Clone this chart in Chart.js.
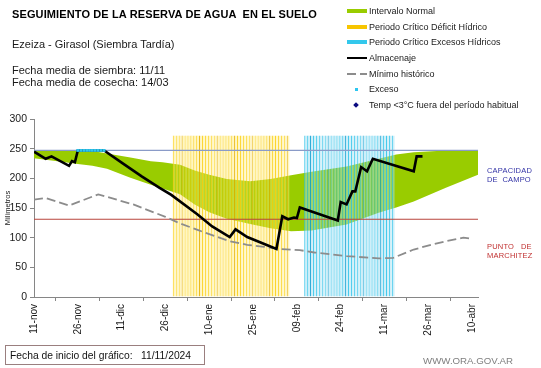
<!DOCTYPE html>
<html lang="es">
<head>
<meta charset="utf-8">
<title>Seguimiento de la reserva de agua en el suelo</title>
<script src="https://cdn.jsdelivr.net/npm/chart.js@4.4.1/dist/chart.umd.min.js"></script>
<style>
  html, body { margin:0; padding:0; background:#fff; }
  #wrap { position:relative; width:541px; height:368px; overflow:hidden; font-family:"Liberation Sans", Arial, sans-serif; color:#111; }
  #chart { position:absolute; left:0; top:0; }
  .txt { position:absolute; white-space:pre; line-height:1; }
  .title { left:12px; top:9px; font-size:11px; font-weight:bold; letter-spacing:0.12px; color:#000; }
  .sub { left:12px; font-size:11px; color:#1a1a1a; }
  .leg { position:absolute; left:347px; width:190px; height:12px; }
  .leg .sym { position:absolute; }
  .leg .lab { position:absolute; left:22px; top:0; font-size:9px; line-height:12px; white-space:pre; color:#1a1a1a; }
  .side { font-size:7.5px; letter-spacing:0.2px; }
  #startbox { position:absolute; left:5px; top:345px; width:200px; height:20px; border:1px solid #9a7f7f; box-sizing:border-box; }
</style>
</head>
<body>
<div id="wrap">
  <canvas id="chart" width="541" height="368"></canvas>

  <div class="txt title">SEGUIMIENTO DE LA RESERVA DE AGUA  EN EL SUELO</div>
  <div class="txt sub" style="top:38.6px">Ezeiza - Girasol (Siembra Tardía)</div>
  <div class="txt sub" style="top:64.6px">Fecha media de siembra: 11/11</div>
  <div class="txt sub" style="top:77px">Fecha media de cosecha: 14/03</div>

  <div class="leg" style="top:5px"><span class="sym" style="left:0;top:4px;width:20px;height:4px;background:#99CC00"></span><span class="lab">Intervalo Normal</span></div>
  <div class="leg" style="top:20.7px"><span class="sym" style="left:0;top:4px;width:20px;height:4px;background:#F7C500"></span><span class="lab">Periodo Crítico Déficit Hídrico</span></div>
  <div class="leg" style="top:36.3px"><span class="sym" style="left:0;top:4px;width:20px;height:4px;background:#33C8EC"></span><span class="lab">Periodo Crítico Excesos Hídricos</span></div>
  <div class="leg" style="top:52px"><span class="sym" style="left:0;top:5px;width:20px;height:2px;background:#000"></span><span class="lab">Almacenaje</span></div>
  <div class="leg" style="top:67.7px"><span class="sym" style="left:0;top:5px;width:9px;height:2px;background:#8c8c8c"></span><span class="sym" style="left:13px;top:5px;width:7px;height:2px;background:#8c8c8c"></span><span class="lab">Mínimo histórico</span></div>
  <div class="leg" style="top:83.3px"><span class="sym" style="left:8px;top:5px;width:3px;height:3px;background:#2CC6F0"></span><span class="lab">Exceso</span></div>
  <div class="leg" style="top:99px"><span class="sym" style="left:7px;top:4px;width:4px;height:4px;background:#0A0A80;transform:rotate(45deg)"></span><span class="lab">Temp &lt;3°C fuera del período habitual</span></div>

  <div class="txt side" style="left:487px;top:167.1px;color:#3232A6">CAPACIDAD</div>
  <div class="txt side" style="left:487px;top:176.1px;color:#3232A6">DE  CAMPO</div>
  <div class="txt side" style="left:487px;top:243.1px;color:#C03030">PUNTO   DE</div>
  <div class="txt side" style="left:487px;top:252px;color:#C03030">MARCHITEZ</div>

  <div id="startbox"></div>
  <div class="txt" style="left:10px;top:351.3px;font-size:10.3px;color:#111">Fecha de inicio del gráfico:   11/11/2024</div>
  <div class="txt" style="left:423px;top:355.8px;font-size:9.7px;color:#7f7f7f">WWW.ORA.GOV.AR</div>
</div>

<script>
/* ── axis ticks (días desde 11-nov) ── */
const TICK_LABELS = ['11-nov','26-nov','11-dic','26-dic','10-ene','25-ene','09-feb','24-feb','11-mar','26-mar','10-abr'];
const TICK_STEP = 15;
const X_MAX = 152;

/* ── intervalo normal ── */
const NORMAL_DAYS = [0, 8, 15, 20, 25, 33, 40, 44, 50, 55, 60, 66, 74, 81, 88, 95, 107, 118, 124, 130, 141, 152];
const NORMAL_MAX  = [247,247,247,246,242,235,229,227,223,213,206,199,195,199,205,211,220,233,240,244,247,247];
const NORMAL_MIN  = [234,229,224,221,216,201,189,183,173,156,143,132,123,116,111,112,122,142,151,161,184,206];

/* ── almacenaje ── */
const ALM_DAYS = [0,4,6,12,13,14,15,24,31,37,43,47,56,61,67,69,73,78,83,85,87,89,90,91,104,105,107,109,110,112,114,116,130,131,133];
const ALM_VALS = [245,233,237,221,229,227,247,247,223,203,184,172,139,119,101,114,101,91,81,136,131,134,133,151,129,160,156,178,178,219,212,233,212,237,237];

/* ── mínimo histórico ── */
const MIN_DAYS = [0,4,12,22,34,45,50,56,67,73,78,84,91,96,107,118,123,130,136,141,147,150];
const MIN_VALS = [164,167,154,173,156,135,124,113,94,88,85,81,79,75,69,65,66,80,88,94,100,98];

/* ── exceso ── */
const EXC_DAYS = [15,16,17,18,19,20,21,22,23,24];
const EXC_VALS = [247,247,247,247,247,247,247,247,247,247];

/* ── umbrales y periodos críticos ── */
const CAPACIDAD = 247;
const MARCHITEZ = 131;
const DEFICIT_PERIOD = [48, 87];
const EXCESO_PERIOD  = [93, 123];
const PERIOD_TOP = 272;

const pts = (xs, ys) => xs.map((x, i) => ({x, y: ys[i]}));
function periodBars(range) {
  const out = [];
  for (let d = range[0]; d <= range[1]; d++) out.push({x: d, y: PERIOD_TOP});
  return out;
}
const hline = v => [{x: 0, y: v}, {x: X_MAX, y: v}];

Chart.defaults.font.family = '"Liberation Sans", Arial, sans-serif';
Chart.defaults.color = '#1a1a1a';

const AXIS = '#868686';
const barBase = { type:'bar', grouped:false, barPercentage:1, categoryPercentage:1, borderSkipped:false, inflateAmount:0 };
const lineBase = { type:'line', pointRadius:0, tension:0, fill:false };

new Chart(document.getElementById('chart'), {
  type: 'line',
  data: {
    datasets: [
      { ...lineBase, label:'min normal', data:pts(NORMAL_DAYS, NORMAL_MIN), borderWidth:0, borderColor:'rgba(0,0,0,0)', order:10 },
      { ...lineBase, label:'Intervalo Normal', data:pts(NORMAL_DAYS, NORMAL_MAX), borderWidth:0, borderColor:'rgba(0,0,0,0)', backgroundColor:'#99CC00', fill:'-1', order:9 },
      { ...barBase, label:'Periodo Crítico Déficit Hídrico', data:periodBars(DEFICIT_PERIOD),
        backgroundColor:'rgba(255,236,120,0.45)', borderWidth:{left:1, right:0, top:0, bottom:0},
        borderColor: c => c.dataIndex % 6 === 3 ? 'rgba(230,176,0,0.95)' : 'rgba(252,208,20,0.9)', order:8 },
      { ...barBase, label:'Periodo Crítico Excesos Hídricos', data:periodBars(EXCESO_PERIOD),
        backgroundColor:'rgba(160,224,244,0.5)', borderWidth:{left:1, right:0, top:0, bottom:0},
        borderColor: c => c.dataIndex % 6 === 2 ? 'rgba(20,160,210,0.95)' : 'rgba(50,196,234,0.9)', order:7 },
      { ...lineBase, label:'Capacidad de campo', data:hline(CAPACIDAD), borderColor:'#8A9BC8', borderWidth:1.2, order:6 },
      { ...lineBase, label:'Punto de marchitez', data:hline(MARCHITEZ), borderColor:'#B8453D', borderWidth:1.2, order:5 },
      { ...lineBase, label:'Mínimo histórico', data:pts(MIN_DAYS, MIN_VALS), borderColor:'#8c8c8c', borderWidth:1.8, borderDash:[9,4], order:4 },
      { ...lineBase, label:'Almacenaje', data:pts(ALM_DAYS, ALM_VALS), borderColor:'#000', borderWidth:2.6, order:2 },
      { type:'line', label:'Exceso', data:pts(EXC_DAYS, EXC_VALS), showLine:false, pointStyle:'rect', pointRadius:2,
        pointBackgroundColor:'#2CC6F0', pointBorderWidth:0, order:1 }
    ]
  },
  options: {
    responsive:false,
    animation:false,
    events:[],
    layout:{ padding:{ top:119, right:63, left:0, bottom:0 } },
    plugins:{ legend:{ display:false }, tooltip:{ enabled:false } },
    scales:{
      x:{
        type:'linear', min:0, max:X_MAX, offset:false,
        afterFit: s => { s.height = 71; },
        border:{ color:AXIS, width:1 },
        grid:{ drawOnChartArea:false, drawTicks:true, tickLength:4, color:AXIS },
        ticks:{ stepSize:TICK_STEP, includeBounds:false, autoSkip:false, minRotation:90, maxRotation:90, padding:3,
                font:{ size:10 }, color:'#1a1a1a', callback: v => TICK_LABELS[Math.round(v / TICK_STEP)] }
      },
      y:{
        min:0, max:300,
        afterFit: s => { s.width = 34; },
        border:{ color:AXIS, width:1 },
        grid:{ drawOnChartArea:false, drawTicks:true, tickLength:4, color:AXIS },
        ticks:{ stepSize:50, padding:3, font:{ size:10.5 }, color:'#1a1a1a' },
        title:{ display:true, text:'Milímetros', font:{ size:7.5 }, color:'#1a1a1a', padding:{ top:3, bottom:0 } }
      }
    }
  }
});
</script>
</body>
</html>
